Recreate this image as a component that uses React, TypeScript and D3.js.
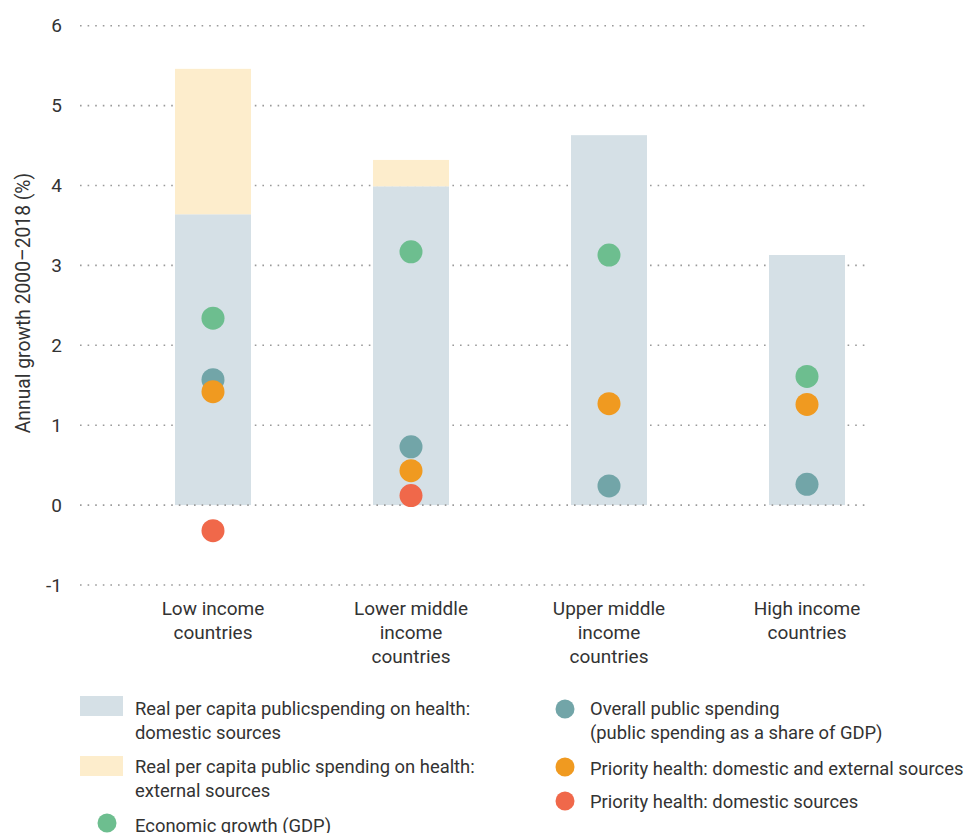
import React from "react";
import * as d3 from "d3";

const categories = [
  ["Low income", "countries"],
  ["Lower middle", "income", "countries"],
  ["Upper middle", "income", "countries"],
  ["High income", "countries"],
];
const domestic = [3.64, 3.99, 4.63, 3.13];
const external = [1.82, 0.33, 0, 0];
const gdpGrowth = [2.34, 3.17, 3.13, 1.61];
const overallSpending = [1.57, 0.73, 0.24, 0.26];
const priorityDomExt = [1.42, 0.43, 1.27, 1.26];
const priorityDom: (number | null)[] = [-0.32, 0.12, null, null];
const yTicks = [-1, 0, 1, 2, 3, 4, 5, 6];

const COLORS = {
  domestic: "#d5e0e6",
  external: "#fdedcc",
  green: "#6dbe8f",
  teal: "#72a5a8",
  orange: "#f09a20",
  red: "#f0684a",
  text: "#333333",
  grid: "#9a9a9a",
};

const dotSeries = [
  { values: gdpGrowth, color: COLORS.green },
  { values: overallSpending, color: COLORS.teal },
  { values: priorityDomExt, color: COLORS.orange },
  { values: priorityDom, color: COLORS.red },
];

const FONT = "Roboto, 'DejaVu Sans', sans-serif";
const LEG_FS = 18.4;

export default function App() {
  const W = 965;
  const H = 833;
  const y = d3.scaleLinear().domain([-1, 6]).range([585, 25.7]);
  const x = d3
    .scaleBand<number>()
    .domain(categories.map((_, i) => i))
    .range([114, 906])
    .paddingInner(0.616)
    .paddingOuter(0.308);
  const bw = x.bandwidth();
  const gridX0 = 80;
  const gridX1 = 870;

  const gridLine = (v: number) => (
    <line
      key={"g" + v}
      x1={gridX0}
      x2={gridX1}
      y1={y(v)}
      y2={y(v)}
      stroke={COLORS.grid}
      strokeWidth={1.6}
      strokeDasharray="1.6 6"
    />
  );

  return (
    <svg
      width={W}
      height={H}
      style={{ position: "absolute", left: 0, top: 0, fontFamily: FONT }}
    >
      <rect width={W} height={H} fill="#fff" />
      {yTicks.filter((v) => v !== 0).map(gridLine)}
      {yTicks.map((v) => (
        <text
          key={"t" + v}
          x={62}
          y={y(v)}
          dy="0.35em"
          textAnchor="end"
          fontSize={19}
          fill={COLORS.text}
        >
          {v}
        </text>
      ))}
      <text
        transform={`translate(30,303) rotate(-90)`}
        textAnchor="middle"
        fontSize={19.3}
        fill={COLORS.text}
      >
        Annual growth 2000–2018 (%)
      </text>
      {categories.map((_, i) => (
        <g key={"b" + i}>
          <rect
            x={x(i)}
            width={bw}
            y={y(domestic[i])}
            height={y(0) - y(domestic[i])}
            fill={COLORS.domestic}
          />
          {external[i] > 0 && (
            <rect
              x={x(i)}
              width={bw}
              y={y(domestic[i] + external[i])}
              height={y(domestic[i]) - y(domestic[i] + external[i])}
              fill={COLORS.external}
            />
          )}
        </g>
      ))}
      {gridLine(0)}
      {dotSeries.map((s, si) =>
        s.values.map((v, i) =>
          v === null ? null : (
            <circle
              key={`d${si}-${i}`}
              cx={(x(i) as number) + bw / 2}
              cy={y(v)}
              r={11.5}
              fill={s.color}
            />
          )
        )
      )}
      {categories.map((lines, i) => (
        <text
          key={"c" + i}
          x={(x(i) as number) + bw / 2}
          y={615}
          textAnchor="middle"
          fontSize={19}
          fill={COLORS.text}
        >
          {lines.map((l, li) => (
            <tspan key={li} x={(x(i) as number) + bw / 2} dy={li === 0 ? 0 : 24}>
              {l}
            </tspan>
          ))}
        </text>
      ))}
      <rect x={80} y={696} width={43} height={20} fill={COLORS.domestic} />
      <text x={135} y={715} fontSize={LEG_FS} fill={COLORS.text}>
        <tspan x={135}>Real per capita publicspending on health:</tspan>
        <tspan x={135} dy={23.5}>domestic sources</tspan>
      </text>
      <rect x={80} y={756} width={43} height={20} fill={COLORS.external} />
      <text x={135} y={773} fontSize={LEG_FS} fill={COLORS.text}>
        <tspan x={135}>Real per capita public spending on health:</tspan>
        <tspan x={135} dy={23.5}>external sources</tspan>
      </text>
      <circle cx={107} cy={823} r={9.5} fill={COLORS.green} />
      <text x={135} y={832} fontSize={LEG_FS} fill={COLORS.text}>
        Economic growth (GDP)
      </text>
      <circle cx={565} cy={709} r={9.5} fill={COLORS.teal} />
      <text x={590} y={715} fontSize={LEG_FS} fill={COLORS.text}>
        <tspan x={590}>Overall public spending</tspan>
        <tspan x={590} dy={24}>(public spending as a share of GDP)</tspan>
      </text>
      <circle cx={565} cy={767} r={9.5} fill={COLORS.orange} />
      <text x={590} y={775} fontSize={LEG_FS} fill={COLORS.text}>
        Priority health: domestic and external sources
      </text>
      <circle cx={565} cy={801} r={9.5} fill={COLORS.red} />
      <text x={590} y={808} fontSize={LEG_FS} fill={COLORS.text}>
        Priority health: domestic sources
      </text>
    </svg>
  );
}
